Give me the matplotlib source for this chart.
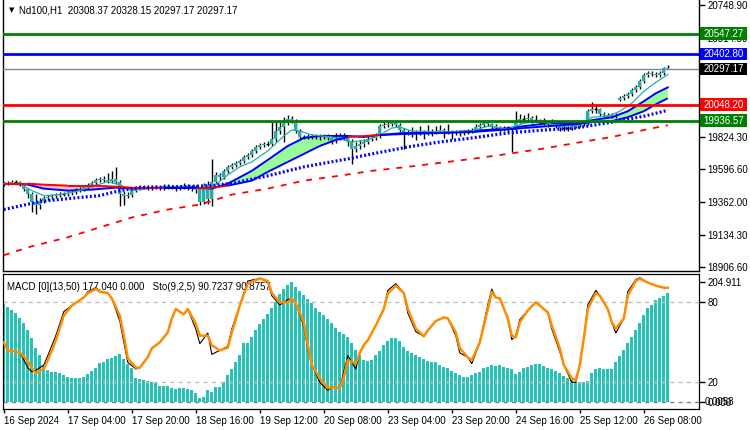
import matplotlib
matplotlib.use("Agg")
import matplotlib.pyplot as plt
from matplotlib.collections import LineCollection
from matplotlib.patches import Rectangle

plt.rcParams['font.family'] = ['Liberation Sans', 'DejaVu Sans']

# ---- candles (H1 bars, index 0 = 16 Sep 2024 00:00) ----
first_open = 19486
gap_opens = {154: 20079}
closes = [19493, 19500, 19507, 19507, 19493, 19458, 19423, 19367, 19346, 19374,
          19395, 19402, 19409, 19416, 19423, 19423, 19430, 19437, 19451, 19458,
          19472, 19486, 19500, 19521, 19528, 19521, 19514, 19528, 19507, 19423,
          19409, 19416, 19444, 19465, 19472, 19472, 19465, 19472, 19472, 19465,
          19479, 19472, 19472, 19465, 19472, 19479, 19472, 19472, 19458, 19367,
          19486, 19388, 19507, 19555, 19542, 19583, 19611, 19625, 19639, 19653,
          19681, 19695, 19723, 19751, 19765, 19772, 19772, 19807, 19863, 19891,
          19918, 19946, 19932, 19863, 19821, 19821, 19828, 19821, 19828, 19821,
          19828, 19814, 19793, 19807, 19835, 19821, 19786, 19737, 19758, 19772,
          19786, 19807, 19814, 19828, 19897, 19904, 19911, 19918, 19904, 19870,
          19856, 19849, 19856, 19849, 19856, 19849, 19863, 19856, 19863, 19870,
          19863, 19856, 19849, 19856, 19849, 19856, 19863, 19870, 19891, 19904,
          19918, 19911, 19897, 19891, 19877, 19884, 19877, 19870, 19932, 19946,
          19946, 19953, 19939, 19939, 19918, 19918, 19911, 19911, 19904, 19884,
          19884, 19884, 19891, 19904, 19911, 19918, 20002, 20016, 20016, 19981,
          19974, 19967, 19974, 19967, 20093, 20107, 20121, 20149, 20170, 20212,
          20260, 20274, 20267, 20260, 20274, 20308.37, 20297.17]
highs = [19507, 19514, 19521, 19521, 19514, 19500, 19465, 19437, 19423, 19395,
         19409, 19416, 19423, 19430, 19437, 19437, 19444, 19451, 19465, 19472,
         19486, 19500, 19514, 19535, 19542, 19549, 19570, 19583, 19611, 19521,
         19444, 19437, 19458, 19479, 19486, 19486, 19486, 19486, 19486, 19479,
         19493, 19493, 19486, 19486, 19486, 19500, 19493, 19486, 19486, 19472,
         19500, 19514, 19667, 19576, 19569, 19597, 19625, 19639, 19653, 19667,
         19695, 19709, 19737, 19765, 19779, 19786, 19793, 19925, 19932, 19925,
         19960, 19974, 19967, 19946, 19877, 19835, 19842, 19842, 19842, 19842,
         19842, 19842, 19821, 19849, 19849, 19849, 19835, 19807, 19786, 19800,
         19807, 19835, 19842, 19849, 19911, 19925, 19932, 19932, 19932, 19918,
         19884, 19870, 19890, 19870, 19897, 19870, 19904, 19877, 19897, 19904,
         19884, 19911, 19870, 19870, 19870, 19870, 19877, 19884, 19911, 19918,
         19932, 19925, 19918, 19911, 19897, 19897, 19897, 19890, 20002, 19981,
         19974, 19988, 19967, 19974, 19946, 19953, 19932, 19946, 19925, 19911,
         19904, 19897, 19911, 19918, 19925, 19932, 20016, 20065, 20044, 20023,
         19995, 19988, 19988, 19988, 20107, 20121, 20135, 20163, 20184, 20226,
         20274, 20288, 20288, 20281, 20288, 20316, 20328.15]
lows = [19479, 19486, 19493, 19493, 19479, 19444, 19395, 19297, 19283, 19318,
        19360, 19381, 19388, 19395, 19402, 19409, 19409, 19416, 19423, 19437,
        19444, 19458, 19472, 19486, 19507, 19507, 19500, 19500, 19493, 19339,
        19346, 19395, 19402, 19437, 19451, 19458, 19451, 19451, 19458, 19451,
        19451, 19458, 19458, 19444, 19451, 19458, 19451, 19444, 19430, 19346,
        19353, 19353, 19339, 19493, 19521, 19528, 19569, 19597, 19611, 19625,
        19639, 19667, 19681, 19709, 19737, 19751, 19758, 19758, 19786, 19842,
        19786, 19904, 19918, 19849, 19807, 19807, 19807, 19807, 19807, 19800,
        19807, 19800, 19772, 19779, 19800, 19800, 19758, 19632, 19716, 19737,
        19751, 19772, 19793, 19800, 19814, 19883, 19890, 19897, 19890, 19856,
        19737, 19835, 19821, 19800, 19835, 19807, 19835, 19828, 19842, 19849,
        19814, 19842, 19807, 19835, 19828, 19835, 19842, 19849, 19856, 19877,
        19890, 19897, 19877, 19870, 19856, 19863, 19856, 19716, 19863, 19918,
        19925, 19932, 19918, 19925, 19904, 19904, 19890, 19897, 19884, 19863,
        19863, 19863, 19870, 19884, 19890, 19897, 19904, 19988, 19988, 19967,
        19960, 19953, 19953, 19953, 20072, 20079, 20093, 20107, 20135, 20156,
        20198, 20246, 20253, 20246, 20240, 20260, 20297.17]

# ---- moving averages (bar index, price) ----
ma200_bars = [0, 7, 16, 24, 32, 41, 49, 57, 66, 75, 84, 92, 101, 109, 117, 126, 135, 143, 152, 160, 166]
ma200 = [18990, 19053, 19116, 19186, 19255, 19311, 19346, 19416, 19458, 19514, 19549,
         19583, 19611, 19639, 19667, 19702, 19740, 19779, 19821, 19870, 19904]
ma100_bars = [0, 9, 16, 24, 29, 34, 44, 52, 58, 66, 75, 86, 92, 101, 109, 117, 126, 135, 143, 152, 160, 166]
ma100 = [19311, 19367, 19388, 19409, 19444, 19465, 19472, 19479, 19500, 19548, 19611,
         19667, 19702, 19751, 19786, 19814, 19849, 19870, 19884, 19925, 19967, 20009]
band_bars = [0, 6, 10, 16, 22, 28, 32, 40, 48, 52, 56, 62, 66, 71, 75, 79, 83, 86, 90, 94,
             100, 109, 117, 124, 130, 136, 143, 147, 152, 156, 160, 163, 166]
band_fast = [19493, 19486, 19458, 19444, 19451, 19465, 19458, 19465, 19465, 19458, 19493,
             19583, 19660, 19758, 19814, 19828, 19828, 19828, 19821, 19835, 19849, 19849,
             19863, 19877, 19897, 19918, 19918, 19939, 19960, 20002, 20072, 20128, 20170]
band_slow = [19493, 19493, 19486, 19479, 19479, 19472, 19465, 19465, 19465, 19465, 19479,
             19514, 19576, 19646, 19702, 19758, 19800, 19821, 19828, 19835, 19842, 19849,
             19856, 19870, 19884, 19897, 19911, 19925, 19932, 19960, 20002, 20051, 20093]
ema_bars = [0, 4, 7, 10, 14, 18, 22, 26, 29, 32, 36, 44, 49, 53, 56, 59, 62, 66, 70, 72,
            74, 77, 82, 87, 91, 94, 97, 99, 102, 110, 117, 121, 126, 130, 134, 139, 144,
            147, 151, 154, 157, 160, 163, 166]
ema_fast = [19493, 19493, 19444, 19409, 19416, 19437, 19472, 19507, 19486, 19444, 19458,
            19472, 19451, 19486, 19555, 19611, 19646, 19723, 19828, 19870, 19863, 19835,
            19821, 19786, 19800, 19835, 19884, 19891, 19863, 19856, 19863, 19897, 19877,
            19918, 19932, 19897, 19904, 19960, 19967, 20002, 20058, 20142, 20205, 20260]

# ---- horizontal levels ----
levels = [20547.27, 20402.80, 20297.17, 20048.20, 19936.57]
level_line_colors = ["#008000", "#0000FF", "#778899", "#FF0000", "#008000"]
level_box_colors = ["#008000", "#0000FF", "#000000", "#FF0000", "#008000"]
level_widths = [2, 2, 1, 2, 2]
price_ticks = [18906.60, 19134.30, 19362.00, 19596.60, 19824.30, 20514.50, 20748.90]

# ---- MACD histogram + stochastic ----
macd_hist = [167, 162, 157, 152, 143, 135, 123, 109, 92, 80,
             63, 55, 51, 51, 50, 46, 43, 41, 41, 41,
             43, 48, 53, 58, 67, 68, 73, 75, 79, 82,
             73, 65, 58, 41, 39, 38, 36, 34, 32, 27,
             27, 27, 24, 22, 24, 24, 22, 20, 15, 7,
             9, 20, 17, 26, 26, 34, 46, 56, 68, 80,
             101, 101, 111, 123, 133, 142, 150, 161, 171, 184,
             193, 200, 205, 196, 190, 183, 176, 169, 161, 154,
             149, 142, 135, 126, 120, 116, 111, 101, 89, 80,
             72, 70, 72, 80, 87, 97, 104, 109, 109, 104,
             94, 87, 84, 80, 77, 73, 70, 68, 68, 63,
             60, 58, 53, 50, 46, 43, 43, 46, 50, 51,
             58, 60, 63, 61, 63, 60, 58, 56, 48, 51,
             58, 60, 63, 65, 65, 61, 58, 56, 53, 50,
             44, 41, 38, 34, 34, 34, 36, 50, 56, 58,
             56, 56, 56, 68, 79, 89, 101, 111, 123, 135,
             149, 161, 166, 174, 178, 181, 186]
sto_bars = [0, 1, 4, 6, 7, 8, 10, 11, 13, 15, 17, 20, 21, 23, 24, 26, 27, 29, 30, 31,
            33, 34, 36, 37, 39, 41, 42, 43, 45, 46, 48, 49, 51, 52, 54, 56, 57, 59, 61, 64,
            66, 67, 69, 71, 72, 73, 75, 76, 77, 79, 81, 82, 84, 85, 86, 88, 89, 90, 91, 93,
            95, 96, 98, 100, 101, 103, 105, 106, 108, 110, 111, 113, 114, 116, 117, 119, 121, 122, 123, 124,
            126, 127, 128, 129, 131, 133, 134, 136, 137, 139, 140, 142, 143, 144, 145, 146, 148, 149, 151, 152,
            153, 155, 156, 158, 159, 161, 163, 165, 166]
sto_signal = [50, 44, 42.5, 36, 30.6, 27, 30, 36.6, 51.5, 70, 77.6, 83.6, 87, 90, 88, 87, 83, 70, 55, 38,
              31, 31, 39, 45.5, 50, 57.5, 68, 75, 71, 75, 64, 55, 55, 47.8, 44, 46, 57.5, 77.6, 94, 98,
              96, 87, 80, 80, 83, 79, 65, 48, 33, 23, 15.7, 16.4, 15.7, 24, 36.6, 34, 42, 48, 51.5, 62.7,
              75, 86.6, 92.5, 87, 75, 60.4, 54.5, 59, 66, 68.7, 68, 57.5, 45.5, 38.8, 36.6, 50, 75, 88, 83.6, 83,
              68, 55, 53.7, 65, 74, 80, 77.6, 72.4, 62.7, 45.5, 33, 23, 21.6, 33, 53, 75, 87, 85, 75, 65,
              60.4, 68, 85, 96, 97.8, 94.8, 92.5, 91, 90.9]
sto_main = [50, 44, 42.5, 31, 28, 29, 33, 40, 55, 73, 77.6, 83.6, 88, 91, 88, 87, 83, 66, 50, 35,
            30, 31, 39, 45.5, 50, 57.5, 68, 75, 71, 75, 60, 49, 57, 41, 44, 47, 60, 77.6, 96, 98,
            95, 85, 78, 82, 83, 79, 62, 45, 33, 20, 14, 16.4, 15.7, 28, 40, 30, 42, 48, 51.5, 62.7,
            75, 89, 94, 87, 72, 58, 54.5, 59, 66, 68.7, 68, 55, 42, 38.8, 34, 50, 78, 90, 83.6, 83,
            68, 52, 55, 67, 74, 80, 77.6, 72.4, 60, 43, 33, 20, 20, 33, 53, 78, 89, 85, 75, 65,
            57, 68, 88, 97, 98.5, 94.8, 92.5, 91, 90.7]

time_labels = ["16 Sep 2024", "17 Sep 04:00", "17 Sep 20:00", "18 Sep 16:00", "19 Sep 12:00",
               "20 Sep 08:00", "23 Sep 04:00", "23 Sep 20:00", "24 Sep 16:00", "25 Sep 12:00",
               "26 Sep 08:00"]
time_label_bars = [0, 16, 32, 48, 64, 80, 96, 112, 128, 144, 160]

TEAL = "#20B2AA"
HIST = "#26C2B8"
W, H = 750, 430

fig = plt.figure(figsize=(W / 100, H / 100), dpi=100)
fig.patch.set_facecolor("white")


def px_axes(x0, y0, x1, y1):
    return fig.add_axes([x0 / W, 1 - y1 / H, (x1 - x0) / W, (y1 - y0) / H])


ax = px_axes(3, 0, 699, 271)
axm = px_axes(3, 274, 699, 409)
xlim = (-0.2, 173.8)
ylim = (18879, 20784)
px_price = (ylim[1] - ylim[0]) / 271.0

# ---------------- main price panel ----------------
n = len(closes)
opens = [first_open] + closes[:-1]
for k, v in gap_opens.items():
    opens[k] = v
xs = list(range(n))
ax.vlines(xs, lows, highs, color="black", lw=1, zorder=2)
bottoms = [min(o, c) for o, c in zip(opens, closes)]
heights = [abs(c - o) for o, c in zip(opens, closes)]
ax.bar(xs, heights, bottom=bottoms, width=0.72, color=TEAL, lw=0, zorder=2.2)
doji = [i for i, (o, c) in enumerate(zip(opens, closes)) if o == c]
ax.hlines([closes[i] for i in doji], [i - 0.4 for i in doji], [i + 0.4 for i in doji],
          color="black", lw=1, zorder=2.3)

# band between the two MAs
ax.fill_between(band_bars, band_fast, band_slow, where=[f >= s for f, s in zip(band_fast, band_slow)],
                interpolate=True, color="#98FB98", lw=0, zorder=1.5)
ax.fill_between(band_bars, band_fast, band_slow, where=[f < s for f, s in zip(band_fast, band_slow)],
                interpolate=True, color="#F6B8CC", lw=0, zorder=1.5)
ax.plot(band_bars, band_fast, color="#0000FF", lw=1.4, zorder=3)
segs, cols = [], []
for j in range(len(band_bars) - 1):
    segs.append([(band_bars[j], band_slow[j]), (band_bars[j + 1], band_slow[j + 1])])
    red = band_slow[j] > band_fast[j] or band_slow[j + 1] > band_fast[j + 1]
    cols.append("#FF0000" if red else "#0000FF")
ax.add_collection(LineCollection(segs, colors=cols, linewidths=1.4, zorder=3.1))

ax.plot(ema_bars, ema_fast, color=TEAL, lw=0.9, zorder=3)
ax.plot(ma100_bars, ma100, color="#0000FF", lw=2.3, linestyle=(0, (0.6, 0.7)), zorder=3.2)
ax.plot(ma200_bars, ma200, color="#FF0000", lw=1.3, linestyle=(0, (3.3, 3.9)), zorder=3)

ax.set_xlim(*xlim)
ax.set_ylim(*ylim)

for lv, lc, lw_ in zip(levels, level_line_colors, level_widths):
    ax.axhline(lv, color=lc, lw=lw_, zorder=4)
box_w = 47 / 696.0
for lv, bc in zip(levels, level_box_colors):
    ax.add_patch(Rectangle((1.0015, lv - 6.2 * px_price), box_w, 12.4 * px_price,
                           transform=ax.get_yaxis_transform(), fc=bc, ec="none",
                           clip_on=False, zorder=9))
    ax.text(1.0015 + box_w / 2, lv, "%.2f" % lv, transform=ax.get_yaxis_transform(),
            ha="center", va="center", fontsize=7, color="white", zorder=10, clip_on=False)

ax.yaxis.tick_right()
ax.set_yticks(price_ticks)
ax.set_yticklabels(["%.2f" % t for t in price_ticks])
ax.tick_params(axis="y", length=4, width=1, pad=2, labelsize=7, colors="black")
ax.set_xticks([])
ax.spines["top"].set_visible(False)
for s in ("left", "right", "bottom"):
    ax.spines[s].set_linewidth(1)

ax.text(0.008, 0.962, "\u25bc", transform=ax.transAxes, fontsize=5, ha="left", va="center",
        family=["DejaVu Sans"])
ax.text(0.023, 0.962, "Nd100,H1  20308.37 20328.15 20297.17 20297.17", transform=ax.transAxes,
        fontsize=7, ha="left", va="center")

# ---------------- MACD / stochastic panel ----------------
axm.bar(xs, macd_hist, width=0.72, color=HIST, lw=0, zorder=2)
axm.axhline(0, color="#808080", lw=1, linestyle=(0, (3, 3)), zorder=1)
axm.set_ylim(-11.96, 218.7)
axm.set_xlim(*xlim)
axm.set_xticks(time_label_bars)
axm.set_xticklabels(time_labels, ha="left")
axm.tick_params(axis="x", length=3, width=1, pad=2, labelsize=7)

axs = axm.twinx()
axs.set_ylim(0, 101.25)
axs.set_xlim(*xlim)
axs.axhline(80, color="#C0C0C0", lw=1, linestyle=(0, (3, 3)))
axs.axhline(20, color="#C0C0C0", lw=1, linestyle=(0, (3, 3)))
axs.plot(sto_bars, sto_main, color="black", lw=0.8, zorder=3)
axs.plot(sto_bars, sto_signal, color="#FF8C00", lw=1.8, zorder=4)
axs.set_yticks([20, 80])
axs.set_yticklabels(["20", "80"])
axs.tick_params(axis="y", length=4, width=1, pad=2, labelsize=7)

axm.yaxis.tick_right()
axm.set_yticks([0, 204.911])
axm.set_yticklabels(["0.000", "204.911"])
axm.tick_params(axis="y", length=4, width=1, pad=2, labelsize=7)
axm.text(1.0075, 0.05, "0.0058", transform=axm.transAxes, fontsize=7, ha="left", va="center",
         clip_on=False)
axs.text(0.006, 0.905, "MACD [0](13,50) 177.040 0.000   Sto(9,2,5) 90.7237 90.8757",
         transform=axs.transAxes, fontsize=7, ha="left", va="center")

fig.savefig("out.png", dpi=100)
